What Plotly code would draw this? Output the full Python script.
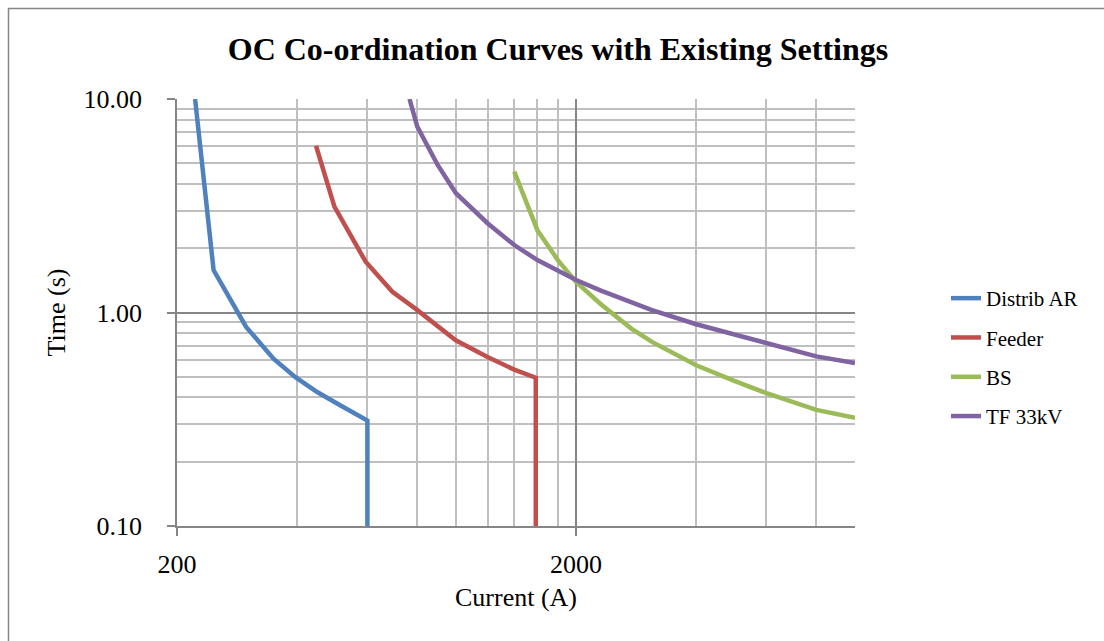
import plotly.graph_objects as go

# ---- data ----
distrib_current = [222, 247, 298, 349, 396, 449, 514, 600, 600]
distrib_time = [10.0, 1.58, 0.856, 0.608, 0.498, 0.424, 0.367, 0.312, 0.1]

feeder_current = [446, 496, 594, 693, 793, 900, 999, 1200, 1400, 1585, 1585]
feeder_time = [6.04, 3.13, 1.73, 1.25, 1.04, 0.862, 0.741, 0.619, 0.54, 0.495, 0.1]

bs_current = [1400, 1600, 1800, 2000, 2300, 2750, 3100, 4000, 5000, 6000, 8000, 10000]
bs_time = [4.57, 2.43, 1.76, 1.39, 1.10, 0.841, 0.728, 0.566, 0.477, 0.419, 0.350, 0.321]

tf_current = [765, 800, 900, 1000, 1200, 1400, 1600, 2000, 2300, 2750, 3100, 4000, 5000, 6000, 8000, 10000]
tf_time = [10.0, 7.43, 4.91, 3.62, 2.62, 2.07, 1.76, 1.42, 1.27, 1.12, 1.025, 0.881, 0.791, 0.720, 0.623, 0.580]

series_names = ["Distrib AR", "Feeder", "BS", "TF 33kV"]
series_colors = ["#4F81BD", "#C0504D", "#9BBB59", "#8064A2"]

x_major = [200, 2000]
x_major_text = ["200", "2000"]
x_minor = [400, 600, 800, 1000, 1200, 1400, 1600, 1800, 4000, 6000, 8000, 10000]
y_major = [0.1, 1, 10]
y_major_text = ["0.10", "1.00", "10.00"]
y_minor = [0.2, 0.3, 0.4, 0.5, 0.6, 0.7, 0.8, 0.9, 2, 3, 4, 5, 6, 7, 8, 9]

FONT = "Liberation Serif, Times New Roman, serif"
AXIS_GREY = "#868686"
MINOR_GREY = "#BFBFBF"

fig = go.Figure()
all_x = [distrib_current, feeder_current, bs_current, tf_current]
all_y = [distrib_time, feeder_time, bs_time, tf_time]
for i, (xs, ys) in enumerate(zip(all_x, all_y)):
    fig.add_trace(go.Scatter(
        x=xs, y=ys, mode="lines", name=series_names[i],
        legendgroup=series_names[i],
        line=dict(color=series_colors[i], width=4.5),
    ))

W, H = 1104, 641
L, R, T, B = 177, 249, 99, 115
pw, ph = W - L - R, H - T - B

def px_to_paper_x(px):
    return (px - L) / pw

def px_to_paper_y(py):
    return (H - B - py) / ph

fig.update_layout(
    width=W, height=H,
    margin=dict(l=L, r=R, t=T, b=B, autoexpand=False),
    paper_bgcolor="white", plot_bgcolor="white",
    font=dict(family=FONT, color="black"),
    title=dict(
        text="OC Co-ordination Curves with Existing Settings",
        x=558 / W, xanchor="center", y=1 - 49 / H, yanchor="middle",
        font=dict(family=FONT, size=32, color="black", weight="bold"),
    ),
    showlegend=True,
    legend=dict(
        x=px_to_paper_x(946), xanchor="left",
        y=px_to_paper_y(278), yanchor="top",
        font=dict(family=FONT, size=21, color="black"),
        tracegroupgap=9, bgcolor="rgba(0,0,0,0)", borderwidth=0,
    ),
    xaxis=dict(
        type="log", range=[2.30103, 4.0],
        tickmode="array", tickvals=x_major, ticktext=x_major_text,
        ticks="outside", ticklen=8, tickcolor=AXIS_GREY, tickwidth=1.5,
        tickfont=dict(family=FONT, size=26, color="black"),
        showgrid=True, gridcolor=AXIS_GREY, gridwidth=1.5,
        minor=dict(tickmode="array", tickvals=x_minor, showgrid=True,
                   gridcolor=MINOR_GREY, gridwidth=1.5, ticks=""),
        showline=True, linecolor=AXIS_GREY, linewidth=1.5,
        zeroline=False,
        title=dict(text="Current (A)", standoff=10,
                   font=dict(family=FONT, size=26, color="black")),
        ticklabelstandoff=6,
    ),
    yaxis=dict(
        type="log", range=[-1, 1],
        tickmode="array", tickvals=y_major, ticktext=y_major_text,
        ticks="outside", ticklen=8, tickcolor=AXIS_GREY, tickwidth=1.5,
        tickfont=dict(family=FONT, size=26, color="black"),
        showgrid=True, gridcolor=AXIS_GREY, gridwidth=1.5,
        minor=dict(tickmode="array", tickvals=y_minor, showgrid=True,
                   gridcolor=MINOR_GREY, gridwidth=1.5, ticks=""),
        showline=True, linecolor=AXIS_GREY, linewidth=1.5,
        zeroline=False,
        title=dict(text="Time (s)", standoff=10,
                   font=dict(family=FONT, size=26, color="black")),
        ticklabelstandoff=20,
    ),
    shapes=[dict(
        type="rect", xref="paper", yref="paper",
        x0=px_to_paper_x(8.5), x1=px_to_paper_x(1115),
        y0=px_to_paper_y(660), y1=px_to_paper_y(8.5),
        line=dict(color=AXIS_GREY, width=1.5), fillcolor="rgba(0,0,0,0)",
        layer="below",
    )],
)

fig.write_html("out.html")
